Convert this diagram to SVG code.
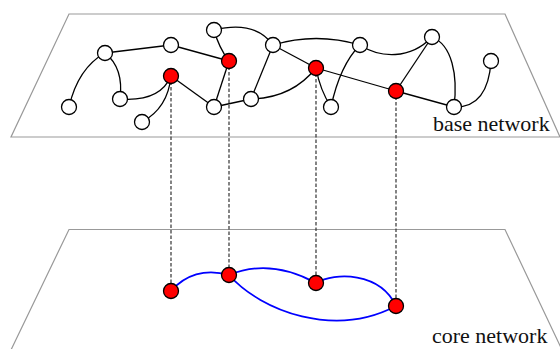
<svg xmlns="http://www.w3.org/2000/svg" width="560" height="349" viewBox="0 0 560 349">
<style>
.plane{fill:#fff;stroke:#999;stroke-width:1.2}
.e{fill:none;stroke:#000;stroke-width:1.3}
.core{fill:none;stroke:#0000ff;stroke-width:1.8}
.dash{fill:none;stroke:#333;stroke-width:1.2;stroke-dasharray:3.5,2}
.w{fill:#fff;stroke:#000;stroke-width:1.3}
.r{fill:#ff0000;stroke:#000;stroke-width:1.3}
.lbl{font-family:"Liberation Serif","Times New Roman",serif;font-size:22px;fill:#111}
</style>
<g id="base-plane">
<polygon class="plane" points="69,14 505,14 560,137 11,137"/>
<text class="lbl" x="433" y="131">base network</text>
</g>
<g id="core-plane">
<polygon class="plane" points="69,229.5 505,229.5 563,352 10,352"/>
<text class="lbl" x="432" y="343">core network</text>
</g>
<g id="connectors">
<path class="dash" d="M171,76 V291"/>
<path class="dash" d="M229,61 V275"/>
<path class="dash" d="M316,68 V283"/>
<path class="dash" d="M396,91 V306"/>
<path class="e" d="M105,53 L171,45"/>
<path class="e" d="M171,45 L229,61"/>
<path class="e" d="M214,30 Q219,48 229,61"/>
<path class="e" d="M214,30 Q255,20 273,45"/>
<path class="e" d="M105,53 Q78,68 69,107"/>
<path class="e" d="M105,53 Q124,68 120,99"/>
<path class="e" d="M120,99 Q160,102 171,76"/>
<path class="e" d="M171,76 Q168,108 142,122"/>
<path class="e" d="M171,76 L214,107"/>
<path class="e" d="M229,61 L214,107"/>
<path class="e" d="M214,107 L251,99"/>
<path class="e" d="M251,99 L273,45"/>
<path class="e" d="M251,99 Q292,98 316,68"/>
<path class="e" d="M273,45 Q316,32 360,45"/>
<path class="e" d="M273,45 L316,68"/>
<path class="e" d="M360,45 Q340,65 331,107"/>
<path class="e" d="M316,68 Q320,90 331,107"/>
<path class="e" d="M316,68 L396,91"/>
<path class="e" d="M360,45 C380,58 410,60 432,37"/>
<path class="e" d="M432,37 L396,91"/>
<path class="e" d="M432,37 C452,45 458,75 454,107"/>
<path class="e" d="M396,91 L454,107"/>
<path class="e" d="M454,107 Q488,108 491,61"/>
<path class="core" d="M171,291 C185,275 205,268 229,275"/>
<path class="core" d="M229,275 Q270,258 316,283"/>
<path class="core" d="M316,283 C335,272 380,272 396,306"/>
<path class="core" d="M229,275 C262,312 335,338 396,306"/>
</g>
<g id="n-A"><circle class="w" cx="105" cy="53" r="7.5"/></g>
<g id="n-B"><circle class="w" cx="171" cy="45" r="7.5"/></g>
<g id="n-C"><circle class="w" cx="214" cy="30" r="7.5"/></g>
<g id="n-D"><circle class="r" cx="229" cy="61" r="7.5"/></g>
<g id="n-E"><circle class="r" cx="171" cy="76" r="7.5"/></g>
<g id="n-F"><circle class="w" cx="69" cy="107" r="7.5"/></g>
<g id="n-G"><circle class="w" cx="120" cy="99" r="7.5"/></g>
<g id="n-H"><circle class="w" cx="142" cy="122" r="7.5"/></g>
<g id="n-I"><circle class="w" cx="214" cy="107" r="7.5"/></g>
<g id="n-J"><circle class="w" cx="251" cy="99" r="7.5"/></g>
<g id="n-K"><circle class="w" cx="273" cy="45" r="7.5"/></g>
<g id="n-L"><circle class="r" cx="316" cy="68" r="7.5"/></g>
<g id="n-M"><circle class="w" cx="360" cy="45" r="7.5"/></g>
<g id="n-N"><circle class="w" cx="432" cy="37" r="7.5"/></g>
<g id="n-O"><circle class="w" cx="491" cy="61" r="7.5"/></g>
<g id="n-P"><circle class="r" cx="396" cy="91" r="7.5"/></g>
<g id="n-Q"><circle class="w" cx="331" cy="107" r="7.5"/></g>
<g id="n-R"><circle class="w" cx="454" cy="107" r="7.5"/></g>
<g id="c-1"><circle class="r" cx="171" cy="291" r="7.5"/></g>
<g id="c-2"><circle class="r" cx="229" cy="275" r="7.5"/></g>
<g id="c-3"><circle class="r" cx="316" cy="283" r="7.5"/></g>
<g id="c-4"><circle class="r" cx="396" cy="306" r="7.5"/></g>
</svg>
